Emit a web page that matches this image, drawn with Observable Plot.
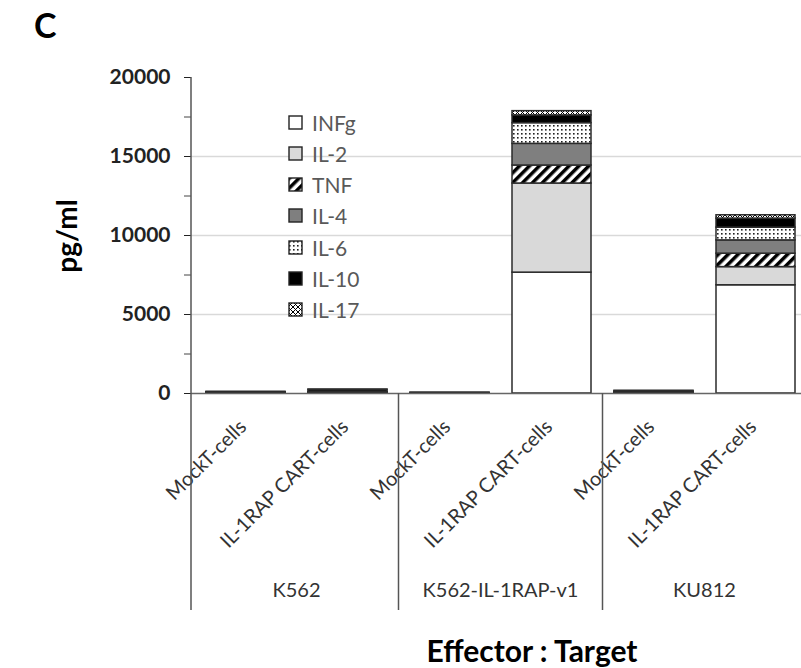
<!DOCTYPE html>
<html><head><meta charset="utf-8">
<script src="https://cdn.jsdelivr.net/npm/d3@7"></script>
<script src="https://cdn.jsdelivr.net/npm/@observablehq/plot@0.6"></script>
<style>
body{margin:0;background:#fff;}
#wrap{position:relative;width:801px;height:668px;overflow:hidden;font-family:Lato,"Open Sans",sans-serif;background:#fff;}
#wrap svg.plot{position:absolute;left:0;top:0;}
.ov{position:absolute;white-space:nowrap;}
#panel{left:34px;top:4px;font-size:34px;font-weight:bold;color:#000;}
#ylab{left:66px;top:236px;font-size:28px;font-weight:bold;color:#000;transform:translate(-50%,-50%) rotate(-90deg);}
#xlab{left:532px;top:650px;font-size:30px;font-weight:bold;color:#000;transform:translate(-50%,-50%);}
.leg{position:absolute;left:288px;display:flex;align-items:center;font-size:21px;color:#595959;height:24px;transform:translateY(-50%);}
.leg svg{margin-right:9px;}
</style></head><body>
<svg width="0" height="0" style="position:absolute">
<defs>
<pattern id="p-tnf" width="7" height="7" patternUnits="userSpaceOnUse" patternTransform="rotate(45)">
<rect width="7" height="7" fill="#fff"/><rect width="3.5" height="7" fill="#000"/>
</pattern>
<pattern id="p-il6" width="4" height="4" patternUnits="userSpaceOnUse">
<rect width="4" height="4" fill="#fff"/><rect x="1" y="1" width="1.6" height="1.6" fill="#222"/>
</pattern>
<pattern id="p-il17" width="5" height="5" patternUnits="userSpaceOnUse">
<rect width="5" height="5" fill="#fff"/><path d="M0,0L5,5M5,0L0,5" stroke="#000" stroke-width="1"/>
</pattern>
</defs></svg>
<div id="wrap">
<div id="panel" class="ov">C</div>
<div id="ylab" class="ov">pg/ml</div>
<div id="xlab" class="ov">Effector : Target</div>
</div>
<script>
const cytokines = ["INFg", "IL-2", "TNF", "IL-4", "IL-6", "IL-10", "IL-17"];
const fills = ["#ffffff", "#d9d9d9", "url(#p-tnf)", "#7f7f7f", "url(#p-il6)", "#000000", "url(#p-il17)"];
const targets = ["K562", "K562", "K562-IL-1RAP-v1", "K562-IL-1RAP-v1", "KU812", "KU812"];
const effectors = ["MockT-cells", "IL-1RAP CART-cells", "MockT-cells", "IL-1RAP CART-cells", "MockT-cells", "IL-1RAP CART-cells"];
const groupNames = ["K562", "K562-IL-1RAP-v1", "KU812"];

const infg = [20, 30, 10, 7650, 20, 6850];
const il2  = [10, 20, 5, 5640, 10, 1150];
const tnf  = [10, 20, 5, 1140, 10, 850];
const il4  = [10, 20, 5, 1370, 10, 840];
const il6  = [20, 20, 5, 1310, 20, 810];
const il10 = [10, 120, 5, 490, 80, 570];
const il17 = [30, 20, 5, 270, 20, 210];
const series = [infg, il2, tnf, il4, il6, il10, il17];

const majorTicks = [0, 5000, 10000, 15000, 20000];
const minorTicks = [2500, 7500, 12500, 17500];

const data = [];
cytokines.forEach((c, j) => series[j].forEach((v, i) =>
  data.push({bar: i, target: targets[i], effector: effectors[i], cytokine: c, value: v})));

const plot = Plot.plot({
  width: 801, height: 668,
  marginTop: 77, marginBottom: 275, marginLeft: 191, marginRight: 0,
  style: {fontFamily: "Lato, 'Open Sans', sans-serif", background: "transparent"},
  x: {type: "band", domain: d3.range(effectors.length), range: [194, 807], paddingInner: 0.227, paddingOuter: 0.1135, axis: null, label: null},
  y: {domain: [0, 20000], axis: null, label: null},
  color: {type: "ordinal", domain: cytokines, range: fills},
  marks: [
    Plot.gridY(majorTicks.filter(v => v > 0 && v < 20000), {stroke: "#d9d9d9", strokeOpacity: 1, strokeWidth: 1.5}),
    Plot.barY(data, {x: "bar", y: "value", fill: "cytokine", stroke: "#2b2b2b", strokeWidth: 1.5}),
    Plot.ruleY([0], {stroke: "#666", strokeWidth: 1.5}),
    Plot.axisY({ticks: majorTicks, label: null, tickSize: 7, tickPadding: 14, fontSize: 21, fontWeight: "bold", color: "#222", tickFormat: d => String(d)}),
    Plot.axisY({ticks: minorTicks, label: null, tickSize: 7, color: "#444", tickFormat: () => ""}),
    Plot.axisX({label: null, tickRotate: -45, tickSize: 0, tickPadding: 30, dx: -3, fontSize: 20, color: "#333", tickFormat: i => effectors[i]})
  ]
});
plot.classList.add("plot");
document.getElementById("wrap").appendChild(plot);

// axis line, group separators and group labels from the plot's scales
const sx = plot.scale("x"), sy = plot.scale("y");
const bw = sx.bandwidth;
const centers = d3.range(effectors.length).map(i => sx.apply(i) + bw / 2);
const svg = d3.select(plot);
const bottom = 610;
const g = svg.append("g").attr("stroke", "#555").attr("stroke-width", 1.5);
g.append("line").attr("x1", 191).attr("x2", 191).attr("y1", sy.apply(20000)).attr("y2", bottom);
for (let k = 1; k < groupNames.length; k++) {
  const xm = (centers[2 * k - 1] + centers[2 * k]) / 2;
  g.append("line").attr("x1", xm).attr("x2", xm).attr("y1", sy.apply(0)).attr("y2", bottom);
}
groupNames.forEach((name, k) => {
  svg.append("text")
    .attr("x", (centers[2 * k] + centers[2 * k + 1]) / 2)
    .attr("y", 592)
    .attr("text-anchor", "middle")
    .attr("dominant-baseline", "middle")
    .attr("font-size", 20)
    .attr("fill", "#333")
    .text(name);
});

// legend
const wrap = document.getElementById("wrap");
cytokines.forEach((c, i) => {
  const d = document.createElement("div");
  d.className = "leg";
  d.style.top = (122 + i * 31.3) + "px";
  d.innerHTML = `<svg width="15" height="15"><rect x="1" y="1" width="13" height="13" fill="${fills[i]}" stroke="#222" stroke-width="1.4"/></svg><span>${c}</span>`;
  wrap.appendChild(d);
});
</script>
</body></html>
